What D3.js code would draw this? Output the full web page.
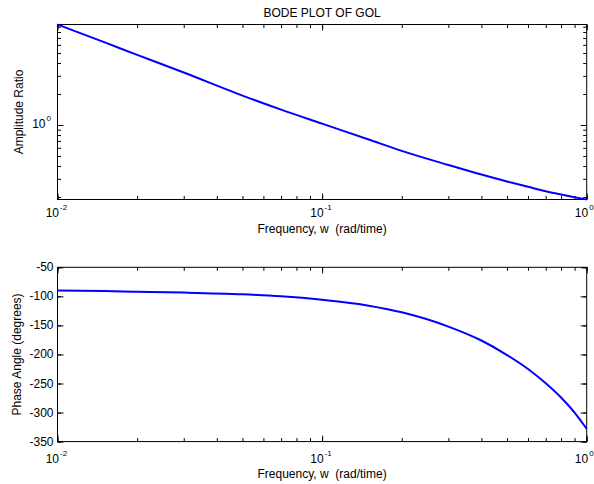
<!DOCTYPE html>
<meta charset="utf-8">
<script src="https://d3js.org/d3.v7.min.js"></script>
<style>
  body { margin: 0; background: #fff; }
  text { font-family: Arial, "Liberation Sans", sans-serif; fill: #000; }
</style>
<div id="bode"></div>
<script>
// frequency grid (rad/time) and values
var freq     = [0.01, 0.015, 0.02, 0.03, 0.05, 0.07, 0.1, 0.15, 0.2, 0.3, 0.4, 0.5, 0.6, 0.7, 0.8, 0.9, 1.0];
var ampRatio = [9.46, 6.37, 4.80, 3.23, 1.93, 1.41, 1.03, 0.723, 0.561, 0.409, 0.330, 0.283, 0.251, 0.227, 0.211, 0.199, 0.189];
var phaseDeg = [-90, -91, -92, -93.5, -96.5, -100, -106, -116, -127.5, -152, -176, -201, -225, -249.5, -274, -300, -328];

var freqDecades  = [0.01, 0.1, 1];
var freqExps     = ["-2", "-1", "0"];
var ampDecades   = [1];
var ampExps      = ["0"];
var ampLimits    = [0.189, 9.46];
var phaseLimits  = [-350, -50];
var phaseTicks   = [-50, -100, -150, -200, -250, -300, -350];

var W = 594, H = 484;
var left = 57.5, right = 586.7;
var top1 = 24.5, bot1 = 199.5;
var top2 = 267.3, bot2 = 441.6;

var svg = d3.select("#bode").append("svg")
  .attr("width", W).attr("height", H);

var x = d3.scaleLog().domain([0.01, 1]).range([left, right]);
var yA = d3.scaleLog().domain(ampLimits).range([bot1, top1]);
var yP = d3.scaleLinear().domain(phaseLimits).range([bot2, top2]);

function tickAxes(g, yScale, yt, yb, yMinor, yMajor) {
  var xMinor = x.ticks();
  var axes = [
    [d3.axisBottom(x), "translate(0," + yb + ")", xMinor, freqDecades],
    [d3.axisTop(x), "translate(0," + yt + ")", xMinor, freqDecades],
    [d3.axisLeft(yScale), "translate(" + left + ",0)", yMinor, yMajor],
    [d3.axisRight(yScale), "translate(" + right + ",0)", yMinor, yMajor]
  ];
  axes.forEach(function(a) {
    g.append("g").attr("transform", a[1])
      .call(a[0].tickValues(a[2]).tickSize(-3.5).tickFormat(""))
      .call(function(s) { s.select(".domain").remove(); });
    g.append("g").attr("transform", a[1])
      .call(a[0].tickValues(a[3]).tickSize(-6).tickFormat(""))
      .call(function(s) { s.select(".domain").remove(); });
  });
  g.selectAll(".tick line").attr("stroke", "#000");
  g.append("rect")
    .attr("x", left).attr("y", yt)
    .attr("width", right - left).attr("height", yb - yt)
    .attr("fill", "none").attr("stroke", "#000").attr("stroke-width", 1);
}

function freqLabels(g, baseY) {
  freqDecades.forEach(function(d, i) {
    g.append("text").attr("x", x(d) + 1.5).attr("y", baseY)
      .attr("text-anchor", "end").attr("font-size", 12).text("10");
    g.append("text").attr("x", x(d) + 2.5).attr("y", baseY - 7.5)
      .attr("font-size", 8).text(freqExps[i]);
  });
}

// ---------- amplitude ratio ----------
var g1 = svg.append("g");
tickAxes(g1, yA, top1, bot1, yA.ticks(), ampDecades);

g1.append("path")
  .datum(freq.map(function(f, i) { return [f, ampRatio[i]]; }))
  .attr("fill", "none").attr("stroke", "#0000ff").attr("stroke-width", 2)
  .attr("d", d3.line().curve(d3.curveMonotoneX)
    .x(function(d) { return x(d[0]); })
    .y(function(d) { return yA(d[1]); }));

ampDecades.forEach(function(d, i) {
  g1.append("text").attr("x", 45.5).attr("y", yA(d) + 3.5)
    .attr("text-anchor", "end").attr("font-size", 12).text("10");
  g1.append("text").attr("x", 46.5).attr("y", yA(d) - 4)
    .attr("font-size", 8).text(ampExps[i]);
});
freqLabels(g1, 217);

g1.append("text").attr("x", (left + right) / 2).attr("y", 16.5)
  .attr("text-anchor", "middle").attr("font-size", 12).text("BODE PLOT OF GOL");
g1.append("text").attr("x", (left + right) / 2).attr("y", 233)
  .attr("text-anchor", "middle").attr("font-size", 12).text("Frequency, w  (rad/time)")
  .style("white-space", "pre");
g1.append("text")
  .attr("transform", "translate(23," + (top1 + bot1) / 2 + ") rotate(-90)")
  .attr("text-anchor", "middle").attr("font-size", 12).text("Amplitude Ratio");

// ---------- phase angle ----------
var g2 = svg.append("g");
tickAxes(g2, yP, top2, bot2, phaseTicks, phaseTicks);

g2.append("path")
  .datum(freq.map(function(f, i) { return [f, phaseDeg[i]]; }))
  .attr("fill", "none").attr("stroke", "#0000ff").attr("stroke-width", 2)
  .attr("d", d3.line().curve(d3.curveMonotoneX)
    .x(function(d) { return x(d[0]); })
    .y(function(d) { return yP(d[1]); }));

phaseTicks.forEach(function(d) {
  g2.append("text").attr("x", 53.5).attr("y", yP(d) + 4)
    .attr("text-anchor", "end").attr("font-size", 12).text(d);
});
freqLabels(g2, 463);

g2.append("text").attr("x", (left + right) / 2).attr("y", 478)
  .attr("text-anchor", "middle").attr("font-size", 12).text("Frequency, w  (rad/time)")
  .style("white-space", "pre");
g2.append("text")
  .attr("transform", "translate(21," + (top2 + bot2) / 2 + ") rotate(-90)")
  .attr("text-anchor", "middle").attr("font-size", 12).text("Phase Angle (degrees)");
</script>
